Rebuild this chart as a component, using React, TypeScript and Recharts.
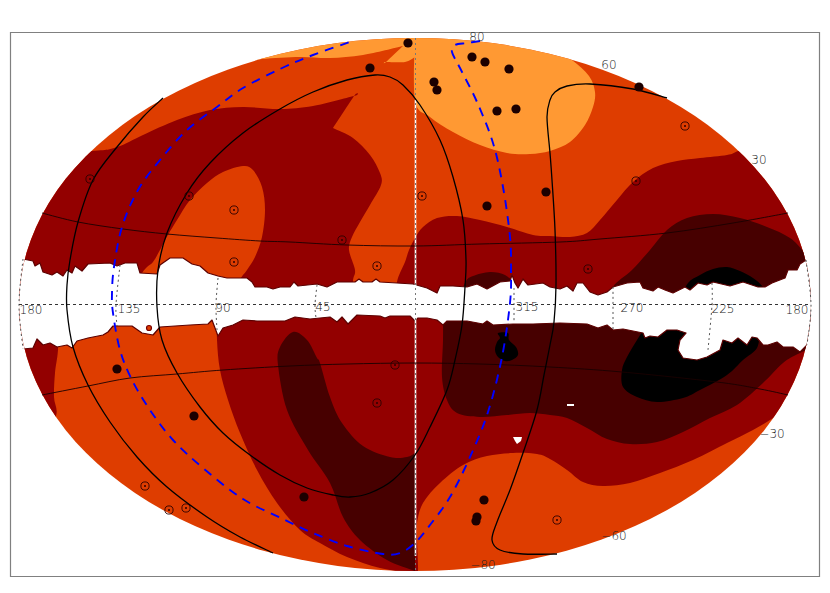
import { ScatterChart, Scatter, XAxis, YAxis, ReferenceArea } from 'recharts';

type Pair = [number, number];

const ORANGE = '#de3d00';
const LIGHT = '#ff9933';
const RED = '#930000';
const MAROON = '#470000';
const BLACK = '#000000';

const skyBounds: Pair[] = [[19, 305], [415, 38], [811, 305], [415, 571]];

const lightNorth: Pair[] = [
  [415, 30], [415, 100], [430, 117], [453, 132], [480, 145], [507, 153], [530, 154], [550, 151], [570, 142],
  [585, 125], [593, 107], [595, 92], [589, 76], [572, 60], [548, 44], [500, 25], [415, 25],
];
const lightSliver: Pair[] = [
  [235, 62], [262, 59], [300, 57], [330, 58], [363, 55], [403, 46], [403, 46], [386, 62], [386, 62], [405, 62],
  [415, 57], [415, 57], [415, 25], [415, 25], [260, 25],
];
const redWest: Pair[] = [
  [0, 155], [92, 151], [117, 147], [143, 135], [177, 120], [210, 110], [243, 107], [280, 109], [313, 106],
  [354, 96], [354, 96], [333, 128], [333, 128], [353, 138], [370, 155], [380, 173], [381, 185], [370, 205],
  [360, 222], [352, 237], [349, 250], [355, 270], [353, 281], [353, 305], [353, 305], [0, 305], [0, 305],
];
const orangeIsland: Pair[] = [
  [243, 166], [253, 170], [262, 187], [265, 210], [262, 237], [255, 257], [247, 270], [240, 280], [240, 292],
  [240, 292], [142, 292], [142, 292], [141, 276], [147, 267], [153, 262], [160, 250], [165, 240], [177, 220],
  [190, 200], [207, 183], [223, 172],
];
const redEast: Pair[] = [
  [415, 238], [423, 227], [437, 218], [457, 216], [480, 220], [507, 227], [533, 235], [550, 236], [570, 237],
  [587, 233], [600, 220], [617, 200], [633, 182], [653, 168], [677, 161], [700, 158], [727, 155], [738, 151],
  [760, 140], [760, 140], [830, 140], [830, 140], [830, 305], [830, 305], [397, 305], [397, 305], [397, 282],
  [405, 262], [409, 250],
];
const maroonNorthEast: Pair[] = [
  [613, 305], [613, 305], [613, 287], [632, 270], [650, 250], [667, 230], [687, 218], [713, 214], [740, 218],
  [767, 227], [790, 238], [805, 253], [830, 280], [830, 280], [830, 305], [830, 305],
];
const maroonCap: Pair[] = [
  [460, 295], [460, 295], [466, 281], [473, 276], [490, 272], [505, 275], [513, 283], [515, 295], [515, 295],
];
const blackNorth: Pair[] = [
  [680, 300], [680, 300], [688, 283], [700, 275], [713, 269], [727, 267], [740, 271], [753, 278], [763, 287],
  [770, 300], [770, 300],
];
const redSouthWest: Pair[] = [
  [0, 310], [0, 310], [60, 310], [60, 310], [58, 350], [55, 373], [54, 397], [56, 416], [40, 440], [40, 440],
  [0, 440], [0, 440],
];
const redSouth: Pair[] = [
  [217, 310], [217, 310], [217, 340], [220, 370], [228, 400], [240, 433], [257, 470], [277, 503], [300, 530],
  [320, 543], [347, 557], [380, 568], [415, 574], [415, 574], [418, 570], [417, 540], [417, 523], [423, 503],
  [440, 483], [463, 465], [487, 456], [513, 453], [537, 454], [550, 459], [567, 470], [583, 482], [603, 486],
  [630, 483], [660, 473], [693, 460], [727, 443], [753, 430], [773, 418], [790, 405], [790, 405], [830, 380],
  [830, 380], [830, 310], [830, 310],
];
const maroonSouth: Pair[] = [
  [278, 365], [280, 347], [293, 332], [307, 340], [317, 358], [320, 363], [330, 397], [342, 423], [363, 446],
  [390, 457], [407, 457], [415, 453], [415, 453], [415, 571], [415, 571], [387, 560], [360, 540], [343, 517],
  [330, 483], [308, 450], [287, 410],
];
const maroonSouthEast: Pair[] = [
  [443, 310], [443, 310], [443, 340], [442, 377], [447, 400], [457, 413], [480, 417], [507, 415], [530, 413],
  [550, 415], [567, 418], [587, 428], [607, 439], [630, 444], [657, 442], [683, 432], [710, 418], [737, 405],
  [763, 383], [783, 363], [800, 353], [830, 340], [830, 340], [830, 310], [830, 310],
];
const blackSouth: Pair[] = [
  [622, 370], [627, 357], [637, 340], [645, 328], [645, 328], [760, 330], [760, 330], [757, 348], [743, 360],
  [727, 375], [700, 390], [683, 398], [657, 402], [637, 397], [623, 387],
];
const blackBlob: Pair[] = [
  [498, 333], [508, 333], [509, 340], [516, 347], [518, 355], [512, 360], [505, 361], [498, 357], [495, 350],
  [497, 342], [500, 338],
];

const bandTop: Pair[] = [
  [15, 259], [23, 259], [33, 261], [35, 266], [40, 263], [43, 272], [52, 275], [57, 272], [63, 276], [67, 270],
  [72, 273], [75, 266], [82, 271], [88, 264], [110, 263], [117, 266], [125, 263], [137, 263], [140, 273],
  [157, 274], [160, 265], [170, 258], [183, 258], [192, 264], [200, 266], [208, 273], [218, 276], [227, 278],
  [247, 278], [252, 282], [255, 287], [267, 287], [273, 289], [280, 287], [290, 287], [294, 282], [298, 286],
  [317, 284], [327, 287], [337, 282], [355, 282], [359, 279], [363, 282], [372, 282], [376, 279], [380, 282],
  [397, 283], [413, 284], [427, 288], [437, 293], [440, 286], [453, 286], [467, 287], [477, 284], [487, 289],
  [500, 282], [510, 281], [512, 275], [515, 283], [518, 288], [523, 279], [528, 285], [543, 283], [550, 287],
  [560, 289], [567, 286], [573, 291], [577, 283], [583, 283], [590, 292], [598, 295], [607, 292], [613, 287],
  [627, 283], [640, 282], [643, 288], [653, 291], [658, 287], [665, 290], [673, 293], [685, 287], [690, 290],
  [698, 283], [707, 285], [713, 282], [730, 286], [743, 282], [758, 287], [765, 287], [772, 283], [785, 278],
  [788, 270], [797, 270], [800, 264], [806, 260], [815, 258],
];
const bandBottom: Pair[] = [
  [815, 345], [807, 345], [800, 352], [793, 347], [783, 347], [777, 342], [768, 345], [763, 345], [757, 338],
  [752, 337], [747, 345], [738, 338], [732, 343], [723, 340], [720, 350], [707, 357], [697, 360], [683, 358],
  [678, 350], [680, 340], [686, 333], [677, 330], [667, 330], [658, 337], [650, 336], [645, 338], [643, 333],
  [623, 329], [613, 330], [607, 325], [598, 328], [587, 324], [560, 323], [533, 324], [513, 324], [493, 325],
  [487, 321], [483, 324], [467, 321], [447, 321], [443, 325], [437, 320], [427, 318], [418, 318], [415, 321],
  [410, 316], [390, 316], [385, 318], [380, 316], [357, 315], [348, 324], [342, 317], [337, 322], [330, 317],
  [320, 318], [310, 319], [295, 317], [285, 321], [267, 321], [257, 321], [243, 320], [233, 325], [223, 328],
  [218, 336], [215, 328], [212, 320], [208, 324], [190, 325], [160, 327], [153, 335], [142, 333], [132, 326],
  [113, 326], [108, 332], [103, 335], [98, 336], [88, 338], [77, 341], [72, 348], [67, 345], [57, 347], [50, 343],
  [43, 345], [37, 339], [33, 348], [23, 349], [15, 349],
];
const holeOne: Pair[] = [[513, 437], [522, 437], [521, 441], [517, 444], [515, 441]];
const holeTwo: Pair[] = [[567, 404], [574, 404], [574, 406], [567, 406]];

const meridians: Pair[][] = [
  [[23, 259], [19, 305], [23, 349]],
  [[120, 265], [116, 305], [117, 326]],
  [[218, 278], [216, 305], [217, 330]],
  [[317, 285], [315, 305], [316, 318]],
  [[514, 288], [514, 305], [514, 322]],
  [[613, 287], [613, 305], [613, 330]],
  [[712, 283], [712, 305], [708, 350]],
  [[806, 260], [811, 305], [807, 345]],
];
const equator: Pair[] = [[19, 304.5], [811, 304.5]];
const centreSeam: Pair[] = [[415.5, 100], [415.5, 556]];
const centreMeridian: Pair[] = [[415.5, 38], [415.5, 571]];

const northParallel: Pair[] = [
  [42, 213], [78, 222], [123, 229], [167, 234], [217, 238], [260, 241], [290, 242], [347, 245], [415, 246],
  [480, 244], [560, 242], [600, 239], [667, 233], [733, 223], [788, 213],
];
const southParallel: Pair[] = [
  [42, 395], [88, 386], [130, 378], [177, 374], [223, 370], [290, 366], [347, 364], [415, 363], [480, 364],
  [550, 367], [622, 372], [717, 382], [760, 389], [788, 395],
];
const outerArc: Pair[] = [
  [163, 98], [143, 117], [117, 147], [93, 180], [78, 222], [70, 260], [67, 285], [67, 310], [73, 347], [88, 385],
  [110, 422], [137, 457], [167, 487], [207, 517], [240, 537], [273, 553],
];
const innerLoop: Pair[] = [
  [375, 75], [347, 80], [313, 92], [280, 109], [243, 133], [210, 163], [187, 193], [167, 233], [158, 270],
  [157, 307], [162, 340], [177, 373], [200, 407], [223, 433], [250, 455], [280, 475], [307, 488], [333, 495],
  [350, 497], [370, 493], [393, 480], [415, 455], [430, 427], [447, 390], [455, 360], [462, 325], [465, 287],
  [466, 260], [463, 220], [453, 177], [440, 140], [420, 105], [403, 85], [390, 77],
];
const eastArc: Pair[] = [
  [667, 98], [633, 89], [590, 84], [567, 86], [555, 92], [550, 100], [547, 117], [550, 153], [552, 180], [555, 230],
  [556, 285], [554, 322], [550, 345], [544, 375], [537, 410], [523, 453], [510, 490], [497, 522], [492, 540], [500, 550],
  [523, 554], [557, 554],
];
const blueTrack: Pair[] = [
  [480, 41], [467, 43], [455, 45], [452, 52], [460, 68], [477, 102], [493, 143], [503, 187], [510, 237], [511, 270],
  [510, 303], [502, 357], [488, 412], [470, 457], [450, 497], [430, 525], [415, 543], [400, 553], [383, 554],
  [347, 546], [313, 533], [285, 520], [243, 499], [203, 468], [173, 440], [150, 410], [132, 380], [120, 350],
  [113, 313], [112, 293], [114, 267], [122, 227], [138, 190], [160, 160], [187, 130], [217, 107], [243, 88],
  [280, 69], [313, 55], [350, 42],
];

const solidSources: Pair[] = [
  [408, 43], [370, 68], [434, 82], [437, 90], [472, 57], [485, 62], [509, 69], [497, 111], [516, 109], [487, 206],
  [546, 192], [639, 87], [117, 369], [194, 416], [304, 497], [484, 500], [477, 517], [476, 521],
];
const ringSources: Pair[] = [
  [90, 179], [189, 196], [234, 210], [234, 262], [422, 196], [342, 240], [377, 266], [685, 126], [636, 181],
  [588, 269], [145, 486], [169, 510], [186, 508], [395, 365], [377, 403], [557, 520],
];
const strayBlob: Pair[] = [[149, 328]];

const longitudeLabels = ['180', '135', '90', '45', '315', '270', '225', '180'];
const longitudeSpots: Pair[] = [[31, 310], [129, 309], [223, 308], [323, 307], [527, 307], [632, 308], [723, 309], [797, 310]];
const latitudeLabels = ['80', '60', '30', '\u221230', '\u221260', '\u221280'];
const latitudeSpots: Pair[] = [[477, 37], [609, 65], [759, 160], [772, 434], [614, 536], [483, 565]];

const toPoints = (pairs: Pair[]) => pairs.map(([x, y]) => ({ x, y }));
const toLabels = (spots: Pair[], labels: string[]) => spots.map(([x, y], i) => ({ x, y, label: labels[i] }));

const noSymbol = () => null;

// Catmull-Rom through the points, so a contour needs few vertices
function smoothPath(pts: { x: number; y: number }[], closed: boolean) {
  const n = pts.length;
  const at = (i: number) => (closed ? pts[(i + n) % n] : pts[Math.max(0, Math.min(n - 1, i))]);
  let d = `M${pts[0].x},${pts[0].y}`;
  const last = closed ? n : n - 1;
  for (let i = 0; i < last; i++) {
    const p0 = at(i - 1);
    const p1 = at(i);
    const p2 = at(i + 1);
    const p3 = at(i + 2);
    const c1x = p1.x + (p2.x - p0.x) / 6;
    const c1y = p1.y + (p2.y - p0.y) / 6;
    const c2x = p2.x - (p3.x - p1.x) / 6;
    const c2y = p2.y - (p3.y - p1.y) / 6;
    d += `C${c1x},${c1y} ${c2x},${c2y} ${p2.x},${p2.y}`;
  }
  return closed ? d + 'Z' : d;
}

const straightPath = (pts: { x: number; y: number }[]) =>
  'M' + pts.map((p) => `${p.x},${p.y}`).join('L');

const skyOutline = (props: any) => {
  const xs = props.points.map((p: any) => p.x);
  const ys = props.points.map((p: any) => p.y);
  const left = Math.min(...xs);
  const right = Math.max(...xs);
  const top = Math.min(...ys);
  const bottom = Math.max(...ys);
  const shape = { cx: (left + right) / 2, cy: (top + bottom) / 2, rx: (right - left) / 2, ry: (bottom - top) / 2 };
  return (
    <g>
      <clipPath id="sky">
        <ellipse {...shape} />
      </clipPath>
      <ellipse {...shape} fill={ORANGE} />
    </g>
  );
};

const smoothFill = (fill: string) => (props: any) => (
  <path d={smoothPath(props.points, true)} fill={fill} clipPath="url(#sky)" />
);

const bandFill = (props: any) => (
  <path
    d={straightPath(props.points) + 'Z'}
    fill="#ffffff"
    stroke="#5c0000"
    strokeWidth={1.2}
    strokeLinejoin="round"
    clipPath="url(#sky)"
  />
);

const holeFill = (props: any) => <path d={straightPath(props.points) + 'Z'} fill="#ffffff" />;

const curveStroke = (stroke: string, width: number, dash?: string, closed = false) => (props: any) => (
  <path d={smoothPath(props.points, closed)} fill="none" stroke={stroke} strokeWidth={width} strokeDasharray={dash} />
);

const straightStroke = (stroke: string, width: number, dash?: string) => (props: any) => (
  <path d={straightPath(props.points)} fill="none" stroke={stroke} strokeWidth={width} strokeDasharray={dash} />
);

const solidDot = (props: any) => <circle cx={props.cx} cy={props.cy} r={4.6} fill="#1c0000" />;

const ringDot = (props: any) => (
  <g>
    <circle cx={props.cx} cy={props.cy} r={4.1} fill="none" stroke="#2a0000" strokeWidth={0.9} />
    <circle cx={props.cx} cy={props.cy} r={1} fill="#2a0000" />
  </g>
);

const strayDot = (props: any) => (
  <circle cx={props.cx} cy={props.cy} r={2.5} fill={ORANGE} stroke="#7a0000" strokeWidth={1.2} />
);

const axisText = (props: any) => (
  <text
    x={props.cx}
    y={props.cy}
    textAnchor="middle"
    dominantBaseline="central"
    fontFamily="DejaVu Sans"
    fontWeight={200}
    fontSize={12}
    fill="#222222"
  >
    {props.payload.label}
  </text>
);

const contours: [Pair[], string][] = [
  [lightNorth, LIGHT],
  [lightSliver, LIGHT],
  [redWest, RED],
  [orangeIsland, ORANGE],
  [redEast, RED],
  [maroonNorthEast, MAROON],
  [maroonCap, MAROON],
  [blackNorth, BLACK],
  [redSouthWest, RED],
  [redSouth, RED],
  [maroonSouth, MAROON],
  [maroonSouthEast, MAROON],
  [blackSouth, BLACK],
  [blackBlob, BLACK],
];

const thinCurves: Pair[][] = [northParallel, southParallel];
const thickCurves: Pair[][] = [outerArc, eastArc];

export default function App() {
  return (
    <div style={{ position: 'absolute', left: 0, top: 0 }}>
      <ScatterChart width={830} height={593} margin={{ top: 0, right: 0, bottom: 0, left: 0 }}>
        <XAxis type="number" dataKey="x" domain={[0, 830]} hide />
        <YAxis type="number" dataKey="y" domain={[0, 593]} reversed hide />
        <ReferenceArea x1={10.5} x2={819.5} y1={32.5} y2={576.5} fill="#ffffff" fillOpacity={1} stroke="#808080" strokeWidth={1.2} />

        <Scatter data={toPoints(skyBounds)} shape={noSymbol} line={skyOutline} isAnimationActive={false} />
        {contours.map(([pairs, fill], i) => (
          <Scatter key={`contour-${i}`} data={toPoints(pairs)} shape={noSymbol} line={smoothFill(fill)} isAnimationActive={false} />
        ))}

        <Scatter data={toPoints([...bandTop, ...bandBottom])} shape={noSymbol} line={bandFill} isAnimationActive={false} />
        <Scatter data={toPoints(holeOne)} shape={noSymbol} line={holeFill} isAnimationActive={false} />
        <Scatter data={toPoints(holeTwo)} shape={noSymbol} line={holeFill} isAnimationActive={false} />
        <Scatter data={toPoints(strayBlob)} shape={strayDot} isAnimationActive={false} />

        {meridians.map((pairs, i) => (
          <Scatter key={`meridian-${i}`} data={toPoints(pairs)} shape={noSymbol} line={curveStroke('#555555', 1, '2 3')} isAnimationActive={false} />
        ))}
        <Scatter data={toPoints(equator)} shape={noSymbol} line={straightStroke('#333333', 1, '3 3')} isAnimationActive={false} />
        <Scatter data={toPoints(centreSeam)} shape={noSymbol} line={straightStroke('#ffffff', 1.6)} isAnimationActive={false} />
        <Scatter data={toPoints(centreMeridian)} shape={noSymbol} line={straightStroke('#777777', 1, '2 3')} isAnimationActive={false} />

        {thinCurves.map((pairs, i) => (
          <Scatter key={`parallel-${i}`} data={toPoints(pairs)} shape={noSymbol} line={curveStroke('#1a0000', 0.9)} isAnimationActive={false} />
        ))}
        {thickCurves.map((pairs, i) => (
          <Scatter key={`arc-${i}`} data={toPoints(pairs)} shape={noSymbol} line={curveStroke('#000000', 1.3)} isAnimationActive={false} />
        ))}
        <Scatter data={toPoints(innerLoop)} shape={noSymbol} line={curveStroke('#000000', 1.3, undefined, true)} isAnimationActive={false} />
        <Scatter data={toPoints(blueTrack)} shape={noSymbol} line={curveStroke('#0000ff', 1.9, '9 7')} isAnimationActive={false} />

        <Scatter data={toPoints(ringSources)} shape={ringDot} isAnimationActive={false} />
        <Scatter data={toPoints(solidSources)} shape={solidDot} isAnimationActive={false} />

        <Scatter data={toLabels(longitudeSpots, longitudeLabels)} shape={axisText} isAnimationActive={false} />
        <Scatter data={toLabels(latitudeSpots, latitudeLabels)} shape={axisText} isAnimationActive={false} />
      </ScatterChart>
    </div>
  );
}
